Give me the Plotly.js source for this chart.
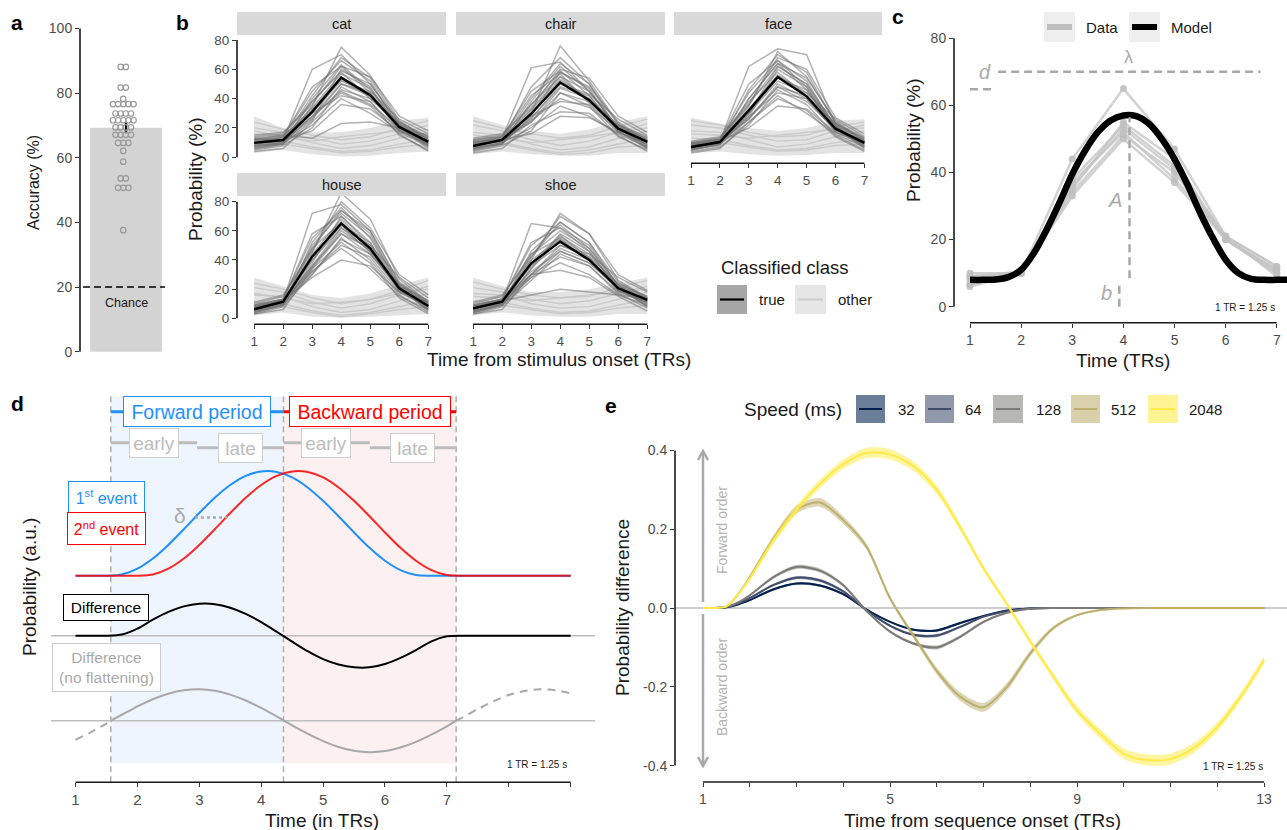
<!DOCTYPE html>
<html><head><meta charset="utf-8">
<script src="https://cdn.plot.ly/plotly-3.0.1.min.js"></script>
<style>html,body{margin:0;padding:0;background:#fff;}#chart{width:1287px;height:830px;}</style>
</head><body><div id="chart"></div>
<script>
// ================= DATA =================
// Panel a: decoding accuracy per participant (%)
const accuracy = [88.1,88.1,81.7,81.7,78.2,76.6,76.6,76.6,76.6,76.6,73.7,73.7,73.7,73.7,
  71.6,71.6,71.6,71.6,71.6,69.4,69.4,69.4,69.4,67.1,67.1,67.1,67.1,64.6,64.6,64.6,62.1,58.8,
  53.6,53.6,50.7,50.7,50.7,37.6];
const accuracyMean = 69.3;
const accuracySem = 1.7;
const chanceLevel = 20;

// Panel b: classifier probability (%) over TRs
const timeTR = [1,2,3,4,5,6,7];
const facetNames = ['cat','chair','face','house','shoe'];
const catMean   = [9.8,11.8,31,54.3,42.3,20.7,10.5];
const chairMean = [7.7,11.8,29.7,51,39,19.5,10.5];
const faceMean  = [7,10.4,32,54.7,41.6,19.5,9.8];
const houseMean = [6.2,11.4,42.3,65.1,48,20.6,8.4];
const shoeMean  = [6.8,11.4,37.7,52.6,40,20.6,12.6];
const catTrue = [[12,12,60,70,50,22,8],[8,10,35,75,56,25,12],[10,14,45,66,52,20,6],[6,9,25,60,48,18,9],
  [14,16,38,58,40,24,14],[9,11,30,52,45,26,16],[5,8,20,48,38,15,5],[11,13,28,45,36,20,12],
  [13,12,33,55,43,22,10],[7,10,22,40,30,17,8],[10,12,18,36,33,18,11],[12,15,13,23,24,20,15],
  [8,9,40,63,46,21,7],[10,11,26,50,42,19,13],[15,17,36,62,55,28,18],[4,6,24,44,35,16,4],
  [9,12,42,68,54,23,11],[11,13,34,57,47,21,9],[7,10,28,50,44,19,10],[12,14,48,62,44,20,8],
  [6,9,32,53,41,23,14],[10,12,27,46,40,22,13],[8,11,38,59,50,24,12],[13,15,30,42,38,18,9]];
const chairTrue = [[10,13,61,65,45,20,8],[6,10,30,76,52,23,11],[9,12,48,68,50,18,6],[5,9,28,58,47,17,9],
  [12,15,36,55,38,22,14],[8,11,26,50,43,26,15],[4,8,18,44,35,14,5],[9,12,25,40,34,19,11],
  [11,12,32,53,40,21,10],[6,10,20,35,28,16,7],[8,12,16,28,27,17,10],[7,9,38,62,45,20,6],
  [9,11,24,47,40,18,12],[13,16,34,60,54,28,17],[3,6,22,31,30,15,4],[10,14,42,57,37,19,13],
  [8,12,40,64,50,22,10],[10,13,33,55,45,20,8],[6,10,27,48,42,19,11],[11,14,45,59,42,18,7],
  [5,9,30,52,39,22,13],[9,12,24,44,38,21,12],[7,11,36,58,48,24,11],[12,14,28,38,36,17,9]];
const faceTrue = [[8,11,62,74,70,22,8],[6,10,35,72,55,24,11],[9,12,44,66,52,20,7],[5,9,28,60,48,17,9],
  [10,13,38,58,42,23,13],[7,10,30,52,44,26,14],[4,7,22,46,36,15,5],[8,11,27,48,38,19,11],
  [9,11,33,56,42,21,10],[5,9,24,42,30,16,7],[7,11,20,35,33,17,10],[6,8,40,64,46,20,6],
  [8,10,26,50,40,18,12],[11,14,36,68,60,27,16],[3,6,24,40,32,14,4],[9,12,30,62,50,21,9],
  [7,10,46,70,58,23,10],[9,12,36,62,50,21,8],[5,9,30,54,46,19,11],[10,12,50,66,48,20,7],
  [6,9,32,56,44,23,13],[8,11,26,48,42,22,12],[7,10,40,64,54,25,11],[10,13,28,44,40,18,9]];
const houseTrue = [[8,12,72,78,60,24,8],[5,10,45,86,68,27,11],[7,13,55,74,58,22,6],[4,9,38,70,52,19,8],
  [10,15,48,66,46,24,12],[6,11,40,62,50,28,14],[3,8,30,55,40,16,4],[7,12,36,58,44,20,10],
  [8,12,44,68,48,22,9],[4,9,32,48,34,15,6],[6,12,28,40,36,18,9],[5,9,52,76,55,21,5],
  [7,11,35,60,47,19,11],[11,16,46,80,62,30,16],[3,6,34,52,38,14,3],[9,13,42,64,45,20,7],
  [6,11,50,72,56,23,9],[8,12,40,64,52,21,7],[5,10,34,58,48,19,10],[9,13,58,70,50,20,6],
  [4,9,36,62,46,23,12],[7,11,30,54,44,22,11],[6,10,48,74,60,25,10],[9,13,32,50,42,18,8]];
const shoeTrue = [[8,12,65,62,50,22,10],[5,10,40,72,58,26,14],[7,13,50,66,52,22,8],[4,9,34,58,46,19,11],
  [10,15,44,55,42,24,15],[6,11,36,50,44,28,18],[3,8,26,44,36,17,7],[7,12,32,46,38,20,13],
  [8,12,40,54,40,22,12],[4,9,28,38,30,16,9],[6,12,16,20,18,16,14],[5,9,46,64,48,21,8],
  [7,11,30,48,40,19,14],[11,16,42,70,58,30,19],[3,6,30,33,28,15,5],[9,13,38,57,41,20,11],
  [6,11,44,60,48,23,12],[8,12,36,56,44,21,10],[5,10,30,50,42,19,13],[9,13,52,62,46,20,9],
  [4,9,34,54,40,23,15],[7,11,28,46,38,22,14],[6,10,42,66,52,25,13],[9,13,30,42,36,18,11]];
const catOther = [[16,15,10,6,8,13,17],[20,17,13,9,11,16,22],[12,11,7,4,5,9,12],[24,19,15,12,14,20,25],[8,9,6,3,4,7,9],[18,14,11,14,16,18,19]];
const chairOther = [[17,15,9,5,7,13,18],[22,18,12,8,11,17,23],[11,10,6,3,5,9,13],[25,20,16,13,15,21,26],[7,9,5,2,3,7,8],[15,13,10,12,14,17,20]];
const faceOther = [[18,17,12,7,9,14,18],[22,20,15,11,12,18,22],[13,12,8,5,6,10,12],[25,22,17,14,15,21,24],[9,10,7,4,5,8,9],[16,15,13,15,17,19,20]];
const houseOther = [[16,15,8,4,6,12,17],[21,18,11,7,10,16,22],[11,10,5,2,4,8,12],[24,20,14,10,13,19,26],[7,8,4,1,3,6,8],[17,14,10,11,13,17,20]];
const shoeOther = [[17,16,10,7,8,13,18],[21,18,13,10,12,17,22],[12,11,7,4,5,9,13],[25,20,16,14,15,21,26],[8,9,6,3,4,7,9],[15,14,12,14,16,18,20]];
const catOtherLow = [3,5,2,0.5,1,3,4],   catOtherHigh = [28,20,17,17,20,25,27];
const chairOtherLow = [2,4,2,1,1,3,3],   chairOtherHigh = [28,22,18,16,19,24,28];
const faceOtherLow = [3,4,2,1,1.5,3,3],  faceOtherHigh = [27,23,20,18,20,25,26];
const houseOtherLow = [2,4,1,0.5,1,2,3], houseOtherHigh = [28,22,16,14,17,23,28];
const shoeOtherLow = [2,4,2,1,1,3,3],    shoeOtherHigh = [28,22,18,18,20,24,28];

// Panel c: averaged data and fitted model
const cData1 = [10,10,44,65,47,21,12];
const cData2 = [6,10,35,55,44,20,10];
const cData3 = [7,10,36,53,41,20,11];
const cData4 = [9,10,37,52,38,21,9];
const cData5 = [8,10,34,51,40,20,10];
const cData6 = [6.5,10,33,50,37,20,11];
const cData7 = [9,10.5,38,54,42,21,12];
const modelTime = [1,1.25,1.5,1.75,2,2.25,2.5,2.75,3,3.25,3.5,3.75,4,4.25,4.5,4.75,5,5.25,5.5,5.75,6,6.25,6.5,6.75,7,7.2];
const modelProb = [8,8,8.1,8.8,11,16,23,31,39.5,46.5,52,55.5,57,56.8,54.5,50,44,36.5,28,20.5,14,10,8.3,8,8,8];

// Panel d: schematic event probabilities (a.u.)
const dTime = [1,1.25,1.5,1.75,2,2.25,2.5,2.75,3,3.25,3.5,3.75,4,4.25,4.5,4.75,5,5.25,5.5,5.75,6,6.25,6.5,6.75,7,7.25,7.5,7.75,8,8.25,8.5,8.75,9];
const event1 = [0,0,0,0.011,0.067,0.164,0.294,0.444,0.599,0.745,0.866,0.953,0.996,0.991,0.939,0.843,0.715,0.568,0.413,0.266,0.143,0.054,0.006,0,0,0,0,0,0,0,0,0,0];
const event2 = [0,0,0,0,0,0.011,0.067,0.164,0.294,0.444,0.599,0.745,0.866,0.953,0.996,0.991,0.939,0.843,0.715,0.568,0.413,0.266,0.143,0.054,0.006,0,0,0,0,0,0,0,0];
const diffFlat = [0,0,0,0.011,0.067,0.153,0.227,0.280,0.305,0.301,0.267,0.208,0.130,0.038,-0.057,-0.148,-0.224,-0.275,-0.302,-0.302,-0.270,-0.212,-0.137,-0.054,-0.006,0,0,0,0,0,0,0,0];
const nfLeftTime = [1,1.25,1.5,1.57];
const nfLeft = [-0.182,-0.109,-0.027,0];
const nfMidTime = [1.57,1.75,2,2.25,2.5,2.75,3,3.25,3.5,3.75,4,4.25,4.5,4.75,5,5.25,5.5,5.75,6,6.25,6.5,6.75,7,7.15];
const nfMid = [0,0.057,0.137,0.205,0.258,0.290,0.300,0.286,0.249,0.193,0.122,0.041,-0.044,-0.124,-0.195,-0.251,-0.287,-0.300,-0.290,-0.256,-0.202,-0.133,-0.054,0];
const nfRightTime = [7.15,7.25,7.5,7.75,8,8.25,8.5,8.75,9];
const nfRight = [0,0.030,0.112,0.185,0.245,0.284,0.300,0.292,0.262];
const periodBounds = [1.57,4.36,7.15];
const deltaShift = [2.93,3.46,0.556];

// Panel e: probability difference by speed
const eTime = [1,1.25,1.5,1.75,2,2.5,3,3.5,4,4.5,5,5.5,6,6.5,7,7.5,8,8.5,9,9.5,10,10.5,11,11.5,12,12.5,13];
const speedLabels = ['32','64','128','512','2048'];
const speed32   = [0,0,0.002,0.009,0.02,0.047,0.062,0.057,0.035,-0.004,-0.035,-0.055,-0.057,-0.038,-0.02,-0.006,-0.001,0,0,0,0,0,0,0,0,0,0];
const speed64   = [0,0,0.002,0.011,0.025,0.058,0.077,0.07,0.042,-0.006,-0.045,-0.068,-0.07,-0.048,-0.022,-0.008,-0.001,0,0,0,0,0,0,0,0,0,0];
const speed128  = [0,0,0.003,0.014,0.032,0.078,0.104,0.095,0.058,-0.008,-0.06,-0.09,-0.1,-0.073,-0.035,-0.012,-0.002,0,0,0,0,0,0,0,0,0,0];
const speed512  = [0,0,0.004,0.035,0.078,0.175,0.25,0.268,0.223,0.155,0.025,-0.07,-0.16,-0.225,-0.252,-0.2,-0.115,-0.05,-0.018,-0.005,-0.001,0,0,0,0,0,0];
const speed2048 = [0,0,0.004,0.035,0.075,0.17,0.25,0.315,0.365,0.394,0.39,0.36,0.3,0.205,0.1,0.01,-0.085,-0.175,-0.26,-0.32,-0.37,-0.386,-0.383,-0.355,-0.302,-0.225,-0.132];
const se32   = [0,0,0,0.001,0.001,0.003,0.003,0.003,0.003,0.002,0.002,0.003,0.003,0.003,0.002,0.001,0,0,0,0,0,0,0,0,0,0,0];
const se64   = [0,0,0,0.001,0.002,0.003,0.004,0.004,0.003,0.002,0.002,0.003,0.004,0.003,0.002,0.001,0,0,0,0,0,0,0,0,0,0,0];
const se128  = [0,0,0,0.001,0.002,0.004,0.005,0.005,0.004,0.003,0.003,0.004,0.005,0.004,0.003,0.002,0.001,0,0,0,0,0,0,0,0,0,0];
const se512  = [0,0,0.001,0.003,0.005,0.008,0.01,0.011,0.01,0.008,0.006,0.007,0.009,0.011,0.011,0.01,0.008,0.005,0.003,0.002,0.001,0,0,0,0,0,0];
const se2048 = [0,0,0.001,0.003,0.005,0.008,0.01,0.011,0.012,0.013,0.013,0.012,0.011,0.009,0.007,0.006,0.007,0.009,0.011,0.012,0.013,0.014,0.014,0.013,0.012,0.011,0.01];

// ================= RENDER =================
const W = 1287, H = 830;
const PX = x => x / W;
const PY = y => 1 - y / H;
const FONT = 'Liberation Sans, Arial, Helvetica, sans-serif';
const TICKC = '#4d4d4d';
const traces = [], shapes = [], annotations = [];

function text(x, y, t, size, color, extra) {
  annotations.push(Object.assign({xref:'paper', yref:'paper', x:PX(x), y:PY(y), text:t, showarrow:false,
    xanchor:'center', yanchor:'middle', font:{family:FONT, size:size, color:color || '#1a1a1a'}}, extra || {}));
}
function rectPx(x0, y0, x1, y1, fill, lineColor) {
  shapes.push({type:'rect', xref:'paper', yref:'paper', x0:PX(x0), x1:PX(x1), y0:PY(y1), y1:PY(y0),
    fillcolor:fill, line:{width: lineColor ? 1 : 0, color: lineColor || 'rgba(0,0,0,0)'}});
}
function linePx(x0, y0, x1, y1, color, width, dash) {
  shapes.push({type:'line', xref:'paper', yref:'paper', x0:PX(x0), x1:PX(x1), y0:PY(y0), y1:PY(y1),
    line:{color:color, width:width, dash:dash || 'solid'}});
}
function pathPx(pts, color, width) {
  const d = pts.map((p, i) => (i ? 'L' : 'M') + PX(p[0]) + ',' + PY(p[1])).join(' ');
  shapes.push({type:'path', xref:'paper', yref:'paper', path:d, line:{color:color, width:width}});
}
function axLine(xref, yref, x0, y0, x1, y1) {
  shapes.push({type:'line', xref:xref, yref:yref, x0:x0, y0:y0, x1:x1, y1:y1, line:{color:'#1a1a1a', width:1.6}});
}
const ax = o => Object.assign({showgrid:false, zeroline:false, showline:false, fixedrange:true, ticks:'outside',
  ticklen:4, tickwidth:1, tickcolor:'#333', tickfont:{family:FONT, size:14, color:TICKC}, tickmode:'array'}, o);
const noTicks = {ticks:'', showticklabels:false};

// ---------- Panel a ----------
traces.push({type:'bar', x:[1], y:[accuracyMean], width:[0.78], xaxis:'x', yaxis:'y',
  marker:{color:'#d3d3d3', line:{width:0}},
  error_y:{type:'data', array:[accuracySem], visible:true, color:'#000', thickness:2.2, width:0}});
const groups = {};
accuracy.forEach(v => { groups[v] = (groups[v] || 0) + 1; });
const dotX = [], dotY = [];
Object.keys(groups).forEach(k => { const n = groups[k];
  for (let i = 0; i < n; i++) { dotX.push(0.97 + (i - (n - 1) / 2) * 0.056); dotY.push(+k); } });
traces.push({type:'scatter', mode:'markers', x:dotX, y:dotY, xaxis:'x', yaxis:'y',
  marker:{symbol:'circle-open', size:5.5, color:'#9a9a9a', line:{width:1.2, color:'#9a9a9a'}}});
axLine('x domain', 'y', 0, 0, 0, 100);
shapes.push({type:'line', xref:'x', yref:'y', x0:0.533, x1:1.424, y0:chanceLevel, y1:chanceLevel,
  line:{color:'#000', width:1.6, dash:'7px,4px'}});
text(127, 303, 'Chance', 12.5);
text(33, 183, 'Accuracy (%)', 16, '#1a1a1a', {textangle:-90});
text(17, 22, '<b>a</b>', 21, '#000');

// ---------- Panel b ----------
function facet(xa, ya, mean, trueLines, otherLines, low, high) {
  traces.push({x:timeTR, y:low, xaxis:xa, yaxis:ya, mode:'lines', line:{width:0, color:'rgba(0,0,0,0)'}});
  traces.push({x:timeTR, y:high, xaxis:xa, yaxis:ya, mode:'lines', line:{width:0, color:'rgba(0,0,0,0)'},
    fill:'tonexty', fillcolor:'rgba(220,220,220,0.8)'});
  otherLines.forEach(l => traces.push({x:timeTR, y:l, xaxis:xa, yaxis:ya, mode:'lines',
    line:{color:'rgba(200,200,200,0.9)', width:1.4}}));
  trueLines.forEach(l => traces.push({x:timeTR, y:l, xaxis:xa, yaxis:ya, mode:'lines',
    line:{color:'rgba(115,115,115,0.55)', width:1.5}}));
  traces.push({x:timeTR, y:mean, xaxis:xa, yaxis:ya, mode:'lines', line:{color:'#000', width:2.4}});
}
facet('x2','y2', catMean, catTrue, catOther, catOtherLow, catOtherHigh);
facet('x3','y3', chairMean, chairTrue, chairOther, chairOtherLow, chairOtherHigh);
facet('x4','y4', faceMean, faceTrue, faceOther, faceOtherLow, faceOtherHigh);
facet('x5','y5', houseMean, houseTrue, houseOther, houseOtherLow, houseOtherHigh);
facet('x6','y6', shoeMean, shoeTrue, shoeOther, shoeOtherLow, shoeOtherHigh);
const strips = [[237,446,12,35],[456,665,12,35],[674,882,12,35],[237,446,173,196],[456,665,173,196]];
strips.forEach((s, i) => { rectPx(s[0], s[2], s[1], s[3], '#d9d9d9');
  text((s[0] + s[1]) / 2, (s[2] + s[3]) / 2 + 0.5, facetNames[i], 14.5, '#1a1a1a'); });
axLine('x2 domain','y2',0,0,0,80); axLine('x5 domain','y5',0,0,0,80);
axLine('x4','y4 domain',1,0,7,0); axLine('x5','y5 domain',1,0,7,0); axLine('x6','y6 domain',1,0,7,0);
text(195, 179, 'Probability (%)', 19, '#1a1a1a', {textangle:-90});
text(559, 359, 'Time from stimulus onset (TRs)', 19);
text(183, 22, '<b>b</b>', 21, '#000');
// legend b
text(785, 267, 'Classified class', 18.5);
rectPx(717, 285, 747, 314, '#a6a6a6'); linePx(720, 299.5, 744, 299.5, '#000', 2.2);
text(757, 299.5, 'true', 15, '#1a1a1a', {xanchor:'left'});
rectPx(795, 285, 826, 314, '#e6e6e6'); linePx(798, 299.5, 823, 299.5, '#cdcdcd', 2);
text(836, 299.5, 'other', 15, '#1a1a1a', {xanchor:'left'});

// ---------- Panel c ----------
[cData1,cData2,cData3,cData4,cData5,cData6,cData7].forEach(d => traces.push({x:timeTR, y:d, xaxis:'x7', yaxis:'y7',
  mode:'lines+markers', line:{color:'rgba(195,195,195,0.75)', width:2.5}, marker:{size:7, color:'rgba(192,192,192,0.9)'}}));
traces.push({x:modelTime, y:modelProb, xaxis:'x7', yaxis:'y7', mode:'lines',
  line:{color:'#000', width:6.5, shape:'spline', smoothing:0.8}});
axLine('x7 domain','y7',0,0,0,80); axLine('x7','y7 domain',1,0,7,0);
const cDash = {color:'#a8a8a8', width:2.5, dash:'8px,5px'};
shapes.push({type:'line', xref:'x7', yref:'y7', x0:1.55, x1:6.68, y0:70, y1:70, line:cDash});
shapes.push({type:'line', xref:'x7', yref:'y7', x0:1.0, x1:1.46, y0:64.8, y1:64.8, line:cDash});
shapes.push({type:'line', xref:'x7', yref:'y7', x0:4.12, x1:4.12, y0:8.5, y1:56.5, line:cDash});
shapes.push({type:'line', xref:'x7', yref:'y7', x0:3.92, x1:3.92, y0:0, y1:7, line:cDash});
text(1128, 57, 'λ', 18, '#aaaaaa');
text(985, 72, '<i>d</i>', 20, '#aaaaaa');
text(1115, 200, '<i>A</i>', 20, '#aaaaaa');
text(1106, 293, '<i>b</i>', 20, '#aaaaaa');
text(1245, 307, '1 TR = 1.25 s', 10);
text(913, 140, 'Probability (%)', 19, '#1a1a1a', {textangle:-90});
text(1123, 360, 'Time (TRs)', 19);
text(898, 17, '<b>c</b>', 21, '#000');
rectPx(1044, 12, 1075, 42, '#efefef'); linePx(1047, 27, 1072, 27, '#bdbdbd', 6);
text(1084, 27, 'Data', 15, '#1a1a1a', {xanchor:'left'});
rectPx(1129, 12, 1160, 42, '#efefef'); linePx(1132, 27, 1157, 27, '#000', 6);
text(1169, 27, 'Model', 15, '#1a1a1a', {xanchor:'left'});

// ---------- Panel d ----------
const dBase = 575.7, dScale = 104.7;
const dY = p => (dBase - p) / dScale;
const diffOffset = dY(635.7), nfOffset = dY(720.7);
shapes.push({type:'rect', layer:'below', xref:'x8', yref:'paper', x0:periodBounds[0], x1:periodBounds[1], y0:PY(763.3), y1:PY(396.7), fillcolor:'#eef5fe', line:{width:0}});
shapes.push({type:'rect', layer:'below', xref:'x8', yref:'paper', x0:periodBounds[1], x1:periodBounds[2], y0:PY(763.3), y1:PY(396.7), fillcolor:'#fdf0f0', line:{width:0}});
periodBounds.forEach(b => shapes.push({type:'line', layer:'below', xref:'x8', yref:'y8 domain', x0:b, x1:b, y0:0, y1:1,
  line:{color:'#b0b0b0', width:1.5, dash:'6px,4px'}}));
shapes.push({type:'line', layer:'below', xref:'x8 domain', yref:'y8', x0:0, x1:1, y0:diffOffset, y1:diffOffset, line:{color:'#bdbdbd', width:1.5}});
shapes.push({type:'line', layer:'below', xref:'x8 domain', yref:'y8', x0:0, x1:1, y0:nfOffset, y1:nfOffset, line:{color:'#bdbdbd', width:1.5}});
traces.push({x:dTime, y:event1, xaxis:'x8', yaxis:'y8', mode:'lines', line:{color:'#1E90FF', width:2, shape:'spline', smoothing:0.7}});
traces.push({x:dTime, y:event2, xaxis:'x8', yaxis:'y8', mode:'lines', opacity:0.85, line:{color:'#FF0000', width:2, shape:'spline', smoothing:0.7}});
traces.push({x:dTime, y:diffFlat.map(v => v + diffOffset), xaxis:'x8', yaxis:'y8', mode:'lines', line:{color:'#000', width:2, shape:'spline', smoothing:0.7}});
traces.push({x:nfLeftTime, y:nfLeft.map(v => v + nfOffset), xaxis:'x8', yaxis:'y8', mode:'lines', line:{color:'#a8a8a8', width:2, dash:'8px,6px', shape:'spline'}});
traces.push({x:nfMidTime, y:nfMid.map(v => v + nfOffset), xaxis:'x8', yaxis:'y8', mode:'lines', line:{color:'#a8a8a8', width:2, shape:'spline', smoothing:0.7}});
traces.push({x:nfRightTime, y:nfRight.map(v => v + nfOffset), xaxis:'x8', yaxis:'y8', mode:'lines', line:{color:'#a8a8a8', width:2, dash:'8px,6px', shape:'spline', smoothing:0.7}});
axLine('x8','y8 domain',1,0,9,0);
// period bars
const midF = (periodBounds[0] + periodBounds[1]) / 2, midB = (periodBounds[1] + periodBounds[2]) / 2;
const segLine = (x0, x1, y, c, w) => shapes.push({type:'line', xref:'x8', yref:'y8', x0:x0, x1:x1, y0:y, y1:y, line:{color:c, width:w}});
segLine(periodBounds[0], periodBounds[1], dY(411.7), '#1E90FF', 3);
segLine(periodBounds[1], periodBounds[2], dY(411.7), '#FF0000', 3);
segLine(periodBounds[0], midF, dY(442.7), '#bdbdbd', 3);
segLine(midF, periodBounds[1], dY(447.7), '#bdbdbd', 3);
segLine(periodBounds[1], midB, dY(442.7), '#bdbdbd', 3);
segLine(midB, periodBounds[2], dY(447.7), '#bdbdbd', 3);
const boxed = (x, y, t, size, color, border, w, h) => text(x, y, t, size, color,
  {bordercolor:border, borderwidth:1, bgcolor:'#ffffff', borderpad:1, width:w, height:h});
boxed(197, 411.5, 'Forward period', 19.5, '#1E90FF', '#1E90FF', 144, 27);
boxed(370, 411.5, 'Backward period', 19.5, '#FF0000', '#FF0000', 158, 27);
boxed(154, 443, 'early', 19, '#bdbdbd', '#cfcfcf', 46, 26);
boxed(240.5, 447.5, 'late', 19, '#bdbdbd', '#cfcfcf', 41, 26);
boxed(326, 443, 'early', 19, '#bdbdbd', '#cfcfcf', 46, 26);
boxed(412.5, 447.5, 'late', 19, '#bdbdbd', '#cfcfcf', 41, 26);
boxed(106.5, 496.7, '1<sup>st</sup> event', 16, '#1E90FF', '#1E90FF', 73, 28);
boxed(106.5, 528.5, '2<sup>nd</sup> event', 16, '#FF0000', '#FF0000', 75, 29);
boxed(106, 607.5, 'Difference', 15.5, '#000', '#000', 82, 23);
boxed(106.5, 667.5, 'Difference<br>(no flattening)', 15.5, '#aaaaaa', '#cccccc', 105, 45);
shapes.push({type:'line', xref:'x8', yref:'y8', x0:deltaShift[0], x1:deltaShift[1], y0:deltaShift[2], y1:deltaShift[2],
  line:{color:'#aaaaaa', width:2.5, dash:'dot'}});
text(180, 515, 'δ', 21, '#aaaaaa');
text(537, 764, '1 TR = 1.25 s', 10);
text(29, 587, 'Probability (a.u.)', 19, '#1a1a1a', {textangle:-90});
text(321.5, 820, 'Time (in TRs)', 19);
text(17, 404, '<b>d</b>', 21, '#000');

// ---------- Panel e ----------
const speedSeries = [speed32, speed64, speed128, speed512, speed2048];
const speedSe = [se32, se64, se128, se512, se2048];
const speedColors = ['#00204D','#414D6B','#7C7B78','#BCAF6F','#FFEA46'];
const speedRibbon = ['rgba(0,32,77,0.5)','rgba(65,77,107,0.5)','rgba(124,123,120,0.5)','rgba(188,175,111,0.5)','rgba(255,234,70,0.5)'];
const speedKey = ['rgba(0,32,77,0.58)','rgba(65,77,107,0.58)','rgba(124,123,120,0.55)','rgba(188,175,111,0.58)','rgba(255,234,70,0.58)'];
shapes.push({type:'line', layer:'below', xref:'x9 domain', yref:'y9', x0:0, x1:1, y0:0, y1:0, line:{color:'#bdbdbd', width:1.5}});
speedSeries.forEach((s, i) => {
  const se = speedSe[i];
  traces.push({x:eTime, y:s.map((v, j) => v - se[j]), xaxis:'x9', yaxis:'y9', mode:'lines',
    line:{width:0, color:'rgba(0,0,0,0)', shape:'spline', smoothing:0.8}});
  traces.push({x:eTime, y:s.map((v, j) => v + se[j]), xaxis:'x9', yaxis:'y9', mode:'lines',
    line:{width:0, color:'rgba(0,0,0,0)', shape:'spline', smoothing:0.8}, fill:'tonexty', fillcolor:speedRibbon[i]});
  traces.push({x:eTime, y:s, xaxis:'x9', yaxis:'y9', mode:'lines',
    line:{color:speedColors[i], width:2, shape:'spline', smoothing:0.8}});
});
axLine('x9 domain','y9',0,-0.4,0,0.4); axLine('x9','y9 domain',1,0,13,0);
// forward / backward double arrow (decoration)
linePx(703, 452, 703, 602, '#a9a9a9', 2.5);
linePx(703, 614, 703, 765, '#a9a9a9', 2.5);
pathPx([[698, 460], [703, 451], [708, 460]], '#a9a9a9', 2.5);
pathPx([[698, 757], [703, 766], [708, 757]], '#a9a9a9', 2.5);
text(722, 530, 'Forward order', 14, '#b3b3b3', {textangle:-90});
text(722, 687, 'Backward order', 14, '#b3b3b3', {textangle:-90});
text(1233, 766, '1 TR = 1.25 s', 10);
text(622, 608, 'Probability difference', 19, '#1a1a1a', {textangle:-90});
text(982, 820, 'Time from sequence onset (TRs)', 19);
text(611, 405, '<b>e</b>', 21, '#000');
text(793, 409, 'Speed (ms)', 19);
const keyBoxes = [[856,885,896],[925,954,963],[993,1023,1034],[1071,1100,1109],[1148,1178,1187]];
keyBoxes.forEach((k, i) => { rectPx(k[0], 395, k[1], 423, speedKey[i]);
  linePx(k[0] + 3, 409, k[1] - 3, 409, speedColors[i], 2);
  text(k[2], 409, speedLabels[i], 15, '#1a1a1a', {xanchor:'left'}); });

// ---------- Layout ----------
const seq = (a, b) => { const r = []; for (let i = a; i <= b; i++) r.push(i); return r; };
const bTop = [PY(163.3), PY(36)], bBot = [PY(324.3), PY(196)];
const bTick = {tickvals:seq(1,7), tickfont:{family:FONT, size:13.5, color:TICKC}};
const bYTick = {tickvals:[0,20,40,60,80], tickfont:{family:FONT, size:13.5, color:TICKC}};
const minorTicks = {tickmode:'linear', tick0:1, dtick:1, ticks:'outside', ticklen:4, tickwidth:1, tickcolor:'#333', showgrid:false};
const layout = {
  width:W, height:H, margin:{l:0, r:0, t:0, b:0}, paper_bgcolor:'#ffffff', plot_bgcolor:'rgba(0,0,0,0)',
  showlegend:false, font:{family:FONT}, shapes:shapes, annotations:annotations,
  xaxis: ax(Object.assign({domain:[PX(80), PX(172)], range:[0.5, 1.5], anchor:'y'}, noTicks)),
  yaxis: ax({domain:[PY(355), PY(22)], range:[-1.02, 102], anchor:'x', tickvals:[0,20,40,60,80,100]}),
  xaxis2: ax(Object.assign({domain:[PX(237), PX(446)], range:[0.41, 7.61], anchor:'y2'}, noTicks)),
  yaxis2: ax(Object.assign({domain:bTop, range:[-4.1, 82.73], anchor:'x2'}, bYTick)),
  xaxis3: ax(Object.assign({domain:[PX(456), PX(665)], range:[0.41, 7.61], anchor:'y3'}, noTicks)),
  yaxis3: ax(Object.assign({domain:bTop, range:[-4.1, 82.73], anchor:'x3'}, noTicks)),
  xaxis4: ax(Object.assign({domain:[PX(674), PX(882)], range:[0.41, 7.61], anchor:'y4'}, bTick)),
  yaxis4: ax(Object.assign({domain:bTop, range:[-4.1, 82.73], anchor:'x4'}, noTicks)),
  xaxis5: ax(Object.assign({domain:[PX(237), PX(446)], range:[0.41, 7.61], anchor:'y5'}, bTick)),
  yaxis5: ax(Object.assign({domain:bBot, range:[-4.12, 83.9], anchor:'x5'}, bYTick)),
  xaxis6: ax(Object.assign({domain:[PX(456), PX(665)], range:[0.41, 7.61], anchor:'y6'}, bTick)),
  yaxis6: ax(Object.assign({domain:bBot, range:[-4.12, 83.9], anchor:'x6'}, noTicks)),
  xaxis7: ax({domain:[PX(954), PX(1287)], range:[0.687, 7.2], anchor:'y7', tickvals:seq(1,7)}),
  yaxis7: ax({domain:[PY(322.7), PY(30)], range:[-4.77, 82.47], anchor:'x7', tickvals:[0,20,40,60,80]}),
  xaxis8: ax({domain:[PX(51), PX(595)], range:[0.604, 9.393], anchor:'y8', tickvals:seq(1,7),
    tickfont:{family:FONT, size:15, color:TICKC}, minor:minorTicks}),
  yaxis8: ax(Object.assign({domain:[PY(782.3), PY(393)], range:[-1.973, 1.745], anchor:'x8'}, noTicks)),
  xaxis9: ax({domain:[PX(675), PX(1287)], range:[0.401, 13.49], anchor:'y9', tickvals:[1,5,9,13], minor:minorTicks}),
  yaxis9: ax({domain:[PY(782), PY(440)], range:[-0.4416, 0.4264], anchor:'x9', tickvals:[-0.4,-0.2,0,0.2,0.4],
    ticktext:['-0.4','-0.2','0.0','0.2','0.4']})
};
traces.forEach(t => { t.showlegend = false; t.hoverinfo = 'skip'; if (!t.type) t.type = 'scatter'; });
Plotly.newPlot('chart', traces, layout, {staticPlot:true, displayModeBar:false});
</script>
</body></html>
